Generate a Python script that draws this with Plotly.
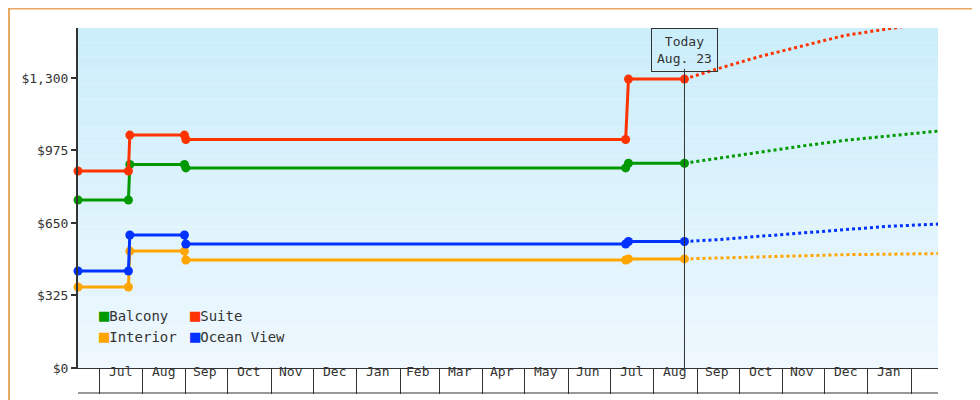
import plotly.graph_objects as go

# observed fares (step history)
hist_dates = ["2022-06-16", "2022-07-22", "2022-07-23", "2022-08-31", "2022-09-01",
              "2023-07-12", "2023-07-14", "2023-08-23"]
balcony = [753, 753, 912, 912, 897, 897, 918, 918]
suite = [883, 883, 1044, 1044, 1024, 1024, 1295, 1295]
interior = [363, 363, 524, 524, 484, 484, 489, 489]
ocean_view = [435, 435, 596, 596, 556, 556, 567, 567]

# forecast
fc_dates = ["2023-08-23", "2023-09-15", "2023-10-15", "2023-11-15", "2023-12-15",
            "2024-01-15", "2024-02-20"]
balcony_fc = [918, 940, 968, 995, 1020, 1040, 1062]
suite_fc = [1295, 1340, 1395, 1445, 1490, 1520, 1555]
interior_fc = [489, 493, 500, 505, 508, 510, 513]
ocean_fc = [567, 575, 590, 605, 620, 635, 645]

month_labels = ["Jul", "Aug", "Sep", "Oct", "Nov", "Dec", "Jan", "Feb", "Mar", "Apr",
                "May", "Jun", "Jul", "Aug", "Sep", "Oct", "Nov", "Dec", "Jan"]
month_mid = ["2022-07-16", "2022-08-16", "2022-09-15", "2022-10-16", "2022-11-15",
             "2022-12-16", "2023-01-16", "2023-02-14", "2023-03-16", "2023-04-15",
             "2023-05-16", "2023-06-15", "2023-07-16", "2023-08-16", "2023-09-15",
             "2023-10-16", "2023-11-15", "2023-12-16", "2024-01-16"]

names = ["Balcony", "Suite", "Interior", "Ocean View"]
colors = ["#009900", "#ff3300", "#ffa500", "#0033ff"]
hist = [balcony, suite, interior, ocean_view]
fcs = [balcony_fc, suite_fc, interior_fc, ocean_fc]
yticks = [0, 325, 650, 975, 1300]

fig = go.Figure()
for name, col, h, f in zip(names, colors, hist, fcs):
    fig.add_trace(go.Scatter(x=hist_dates, y=h, mode="lines+markers", name=name,
                             cliponaxis=False,
                             line=dict(color=col, width=3),
                             marker=dict(size=9, color=col), showlegend=False))
    fig.add_trace(go.Scatter(x=fc_dates, y=f, mode="lines", cliponaxis=False,
                             line=dict(color=col, width=3, dash="dot"),
                             showlegend=False))

# gradient background bands
ymax = 1524
n = 24
for i in range(n):
    t = i / (n - 1)
    r = int(0xee + (0xcc - 0xee) * t)
    g = int(0xf8 + (0xee - 0xf8) * t)
    b = int(0xfe + (0xfb - 0xfe) * t)
    fig.add_shape(type="rect", xref="paper", yref="y", x0=0, x1=1,
                  y0=ymax * i / n, y1=ymax * (i + 1) / n,
                  fillcolor=f"rgb({r},{g},{b})", line_width=0, layer="below")

# today marker
fig.add_shape(type="line", xref="x", yref="paper", x0="2023-08-23", x1="2023-08-23",
              y0=0, y1=0.88, line=dict(color="#333", width=1))
fig.add_annotation(x="2023-08-23", y=1, xref="x", yref="paper", yanchor="top",
                   text="Today<br>Aug. 23", showarrow=False, bordercolor="#333",
                   borderwidth=1, borderpad=5, bgcolor="rgba(0,0,0,0)",
                   font=dict(size=13, color="#333"))
# bottom line of axis boxes
fig.add_shape(type="line", xref="paper", yref="paper", x0=0, x1=1, y0=-0.0735, y1=-0.0735,
              line=dict(color="#333", width=1))
# month labels centred in the boxes
for d, lab in zip(month_mid, month_labels):
    fig.add_annotation(x=d, y=-0.037, xref="x", yref="paper", text=lab,
                       showarrow=False, font=dict(size=13, color="#333"))

# legend as annotations
leg_pos = [(0.022, 0.12), (0.128, 0.12), (0.022, 0.06), (0.128, 0.06)]
for (lx, ly), name, col in zip(leg_pos, names, colors):
    fig.add_annotation(x=lx, y=ly, xref="paper", yref="paper", xanchor="left",
                       showarrow=False,
                       text=f"<span style='color:{col};font-size:17px'>■</span>{name}",
                       font=dict(size=14, color="#333"))

fig.update_layout(
    width=980, height=400,
    margin=dict(l=70, r=50, t=20, b=40),
    paper_bgcolor="white", plot_bgcolor="white",
    font=dict(family="DejaVu Sans Mono", size=13, color="#333"),
    xaxis=dict(type="date", range=["2022-06-16", "2024-02-20"], dtick="M1",
               tick0="2022-07-01", showticklabels=False,
               ticks="outside", ticklen=25, tickcolor="#333", showgrid=False,
               showline=True, linecolor="#333", zeroline=False),
    yaxis=dict(range=[0, ymax], tickvals=yticks,
               ticktext=[f"${v:,}" for v in yticks], ticks="outside",
               ticklen=5, tickwidth=2, tickcolor="#333", showgrid=False,
               showline=True, linewidth=2, linecolor="#333", zeroline=False),
    shapes=list(fig.layout.shapes) + [dict(type="rect", xref="paper", yref="paper",
                x0=-0.0802, x1=1.0558, y0=-0.1132, y1=1.0574,
                line=dict(color="#e8a860", width=2), layer="below")],
)

fig.write_html("out.html")
